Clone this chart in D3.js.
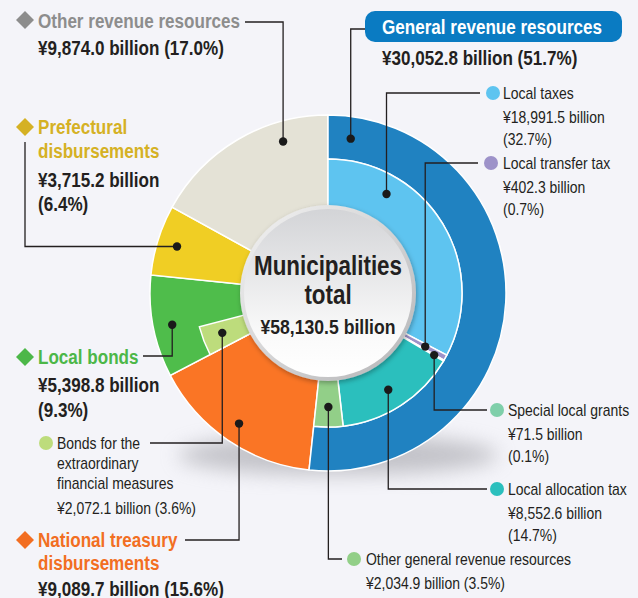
<!DOCTYPE html>
<html><head><meta charset="utf-8">
<script src="https://cdn.jsdelivr.net/npm/d3@7"></script>
<style>
body{margin:0;background:#f4f4f9;}
svg{display:block;font-family:"Liberation Sans",Arial,sans-serif;}
</style></head><body><svg id="chart" width="638" height="598"></svg>
<script>
// data (billion yen)
const total = 58130.5;
const mainNames = ["General revenue resources", "National treasury disbursements", "Local bonds", "Prefectural disbursements", "Other revenue resources"];
const mainValues = [30052.8, 9089.7, 5398.8, 3715.2, 9874.0];
const mainShares = [51.7, 15.6, 9.3, 6.4, 17.0];
const mainColors = ["#2289cc", "#f37224", "#4db849", "#e9c823", "#dedcd0"];

const generalNames = ["Local taxes", "Local transfer tax", "Special local grants", "Local allocation tax", "Other general revenue resources"];
const generalValues = [18991.5, 402.3, 71.5, 8552.6, 2034.9];
const generalShares = [32.7, 0.7, 0.1, 14.7, 3.5];
const generalColors = ["#5ec4f0", "#9d92c9", "#7fcfaa", "#2bbfbd", "#92cf88"];

const bondName = "Bonds for the extraordinary financial measures";
const bondValue = 2072.1;
const bondShare = 3.6;
const bondColor = "#bddc7c";

const svg = d3.select("#chart");
const cx = 328, cy = 293;
const rOuter = 178, rInner = 134, rCenter = 88;
const fmt = d3.format(",.1f");
const ink = "#231f20";

const angle = d3.scaleLinear().domain([0, total]).range([0, 2 * Math.PI]);

function slices(values, colors, offset) {
  let acc = offset || 0;
  return values.map((v, i) => {
    const s = { start: angle(acc), end: angle(acc + v), color: colors[i] };
    acc += v;
    return s;
  });
}
const mainSl = slices(mainValues, mainColors);
const genSl = slices(generalValues, generalColors);
const bondSl = slices([bondValue], [bondColor], mainValues[0] + mainValues[1])[0];

function polar(a, r) { return [cx + r * Math.sin(a), cy - r * Math.cos(a)]; }

const defs = svg.append("defs");
defs.append("filter").attr("id", "blur").attr("x", "-50%").attr("y", "-50%").attr("width", "200%").attr("height", "200%")
  .append("feGaussianBlur").attr("stdDeviation", 10);
const sh = defs.append("filter").attr("id", "csh").attr("x", "-30%").attr("y", "-30%").attr("width", "160%").attr("height", "160%");
sh.append("feDropShadow").attr("dx", 1).attr("dy", 2).attr("stdDeviation", 2.5).attr("flood-color", "#000").attr("flood-opacity", 0.3);

let gid = 0;
function radialFill(color, stops) {
  const id = "g" + (gid++);
  const g = defs.append("radialGradient").attr("id", id).attr("gradientUnits", "userSpaceOnUse")
    .attr("cx", cx).attr("cy", cy).attr("r", rOuter);
  stops.forEach(([o, k]) => {
    const c = k >= 0 ? d3.color(color).brighter(k) : d3.color(color).darker(-k);
    g.append("stop").attr("offset", o).attr("stop-color", c);
  });
  return `url(#${id})`;
}

const g = svg.append("g");
// soft shadow under the ring
g.append("ellipse").attr("cx", cx + 10).attr("cy", cy + 162).attr("rx", 160).attr("ry", 20)
  .attr("fill", "#9a9aa0").attr("opacity", 0.55).attr("filter", "url(#blur)");

const arc = d3.arc();
const pieStops = [[0, 0], [0.6, 0], [0.9, 0.28], [1, 0.08]];

// outer categories other than general
mainSl.slice(1).forEach(s => {
  g.append("path").attr("transform", `translate(${cx},${cy})`)
    .attr("d", arc({ innerRadius: 0, outerRadius: rOuter, startAngle: s.start, endAngle: s.end }))
    .attr("fill", radialFill(s.color, pieStops)).attr("stroke", "#fff").attr("stroke-width", 1.5);
});
// bonds for extraordinary measures
g.append("path").attr("transform", `translate(${cx},${cy})`)
  .attr("d", arc({ innerRadius: 0, outerRadius: rInner - 1, startAngle: bondSl.start, endAngle: bondSl.end }))
  .attr("fill", bondColor).attr("stroke", "#fff").attr("stroke-width", 1.5);

// general revenue ring
g.append("path").attr("transform", `translate(${cx},${cy})`)
  .attr("d", arc({ innerRadius: rInner, outerRadius: rOuter, startAngle: mainSl[0].start, endAngle: mainSl[0].end }))
  .attr("fill", radialFill(mainColors[0], [[0.75, -0.1], [0.87, 0.4], [0.97, 0.05], [1, -0.15]]))
  .attr("stroke", "#fff").attr("stroke-width", 1.5);
// general sub-items
genSl.forEach(s => {
  g.append("path").attr("transform", `translate(${cx},${cy})`)
    .attr("d", arc({ innerRadius: 0, outerRadius: rInner, startAngle: s.start, endAngle: s.end }))
    .attr("fill", s.color).attr("stroke", "#fff").attr("stroke-width", 1.5);
});

// centre disc
const rim = defs.append("linearGradient").attr("id", "rim").attr("x1", 0).attr("y1", 0).attr("x2", 1).attr("y2", 1);
rim.append("stop").attr("offset", 0).attr("stop-color", "#f4f4f4");
rim.append("stop").attr("offset", 1).attr("stop-color", "#b4b4b6");
const face = defs.append("linearGradient").attr("id", "face").attr("x1", 0).attr("y1", 0).attr("x2", 0).attr("y2", 1);
face.append("stop").attr("offset", 0).attr("stop-color", "#d3d4d7");
face.append("stop").attr("offset", 0.75).attr("stop-color", "#fafafa");
face.append("stop").attr("offset", 1).attr("stop-color", "#ffffff");
g.append("circle").attr("cx", cx).attr("cy", cy).attr("r", rCenter).attr("fill", "url(#rim)").attr("filter", "url(#csh)");
g.append("circle").attr("cx", cx).attr("cy", cy).attr("r", rCenter - 4).attr("fill", "url(#face)");

// condensed look: squeeze each text style so a reference string hits its measured width
const styles = {
  head: { size: 20, bold: true, calib: "Other revenue resources", width: 202 },
  body: { size: 17, bold: false, calib: "Other general revenue resources", width: 205 },
  big: { size: 27, bold: true, calib: "Municipalities", width: 148 },
  mid: { size: 20, bold: true, calib: "¥58,130.5 billion", width: 135 }
};
Object.values(styles).forEach(st => {
  const t = svg.append("text").attr("font-size", st.size).attr("font-weight", st.bold ? "bold" : "normal").text(st.calib);
  st.k = st.width / t.node().getComputedTextLength();
  t.remove();
});

function text(x, y, str, style, color, anchor) {
  const st = styles[style];
  const t = svg.append("text").attr("x", x).attr("y", y).text(str)
    .attr("font-size", st.size).attr("font-weight", st.bold ? "bold" : "normal")
    .attr("fill", color || ink).attr("text-anchor", anchor || "start");
  const w = t.node().getComputedTextLength();
  t.attr("textLength", w * st.k).attr("lengthAdjust", "spacingAndGlyphs");
  return t;
}
text(cx, 275, "Municipalities", "big", null, "middle");
text(cx, 304, "total", "big", null, "middle");
text(cx, 334, `¥${fmt(total)} billion`, "mid", null, "middle");

// leader lines: dot placed at a fraction of the slice angle and a radius
const leaders = [
  { s: mainSl[4], f: 0.73, r: 158, path: "vh", x: 245, y: 22 },
  { s: mainSl[0], f: 0.045, r: 156, path: "vh", x: 365, y: 29 },
  { s: genSl[0], f: 0.26, r: 115, path: "vh", x: 480, y: 93 },
  { s: genSl[1], f: 0.5, r: 111, path: "vh", x: 478, y: 163 },
  { s: genSl[2], f: 0.5, r: 123, path: "vh", x: 487, y: 410 },
  { s: genSl[3], f: 0.52, r: 114, path: "vh", x: 487, y: 489 },
  { s: genSl[4], f: 0.5, r: 114, path: "vh", x: 342, y: 559 },
  { s: mainSl[1], f: 0.5, r: 158, path: "vh", x: 185, y: 540 },
  { s: bondSl, f: 0.54, r: 113, path: "vh", x: 150, y: 443 },
  { s: mainSl[2], f: 0.48, r: 159, path: "vh", x: 143, y: 356 },
  { s: mainSl[3], f: 0.49, r: 158, path: "hv", x: 25, y: 142 }
];
leaders.forEach(l => {
  const [px, py] = polar(l.s.start + l.f * (l.s.end - l.s.start), l.r);
  const d = l.path === "vh" ? `M${px},${py}V${l.y}H${l.x}` : `M${px},${py}H${l.x}V${l.y}`;
  svg.append("path").attr("d", d).attr("fill", "none").attr("stroke", "#231f20").attr("stroke-width", 1.3);
  svg.append("circle").attr("cx", px).attr("cy", py).attr("r", 4.2).attr("fill", "#1a1a1a");
});

// left-side headings
function diamond(x, y, color) {
  svg.append("path").attr("d", `M${x},${y - 9}L${x + 9},${y}L${x},${y + 9}L${x - 9},${y}Z`).attr("fill", color);
}
const headColors = { 4: "#8d8d8d", 3: "#d5b124", 2: "#4cb748", 1: "#f26e22" };
diamond(25, 20, headColors[4]);
text(38, 28, mainNames[4], "head", headColors[4]);
text(38, 55, `¥${fmt(mainValues[4])} billion (${mainShares[4].toFixed(1)}%)`, "head");

diamond(25, 127, headColors[3]);
text(38, 134, "Prefectural", "head", headColors[3]);
text(38, 158, "disbursements", "head", headColors[3]);
text(38, 187, `¥${fmt(mainValues[3])} billion`, "head");
text(38, 211, `(${mainShares[3].toFixed(1)}%)`, "head");

diamond(25, 357, headColors[2]);
text(38, 364, mainNames[2], "head", headColors[2]);
text(38, 392, `¥${fmt(mainValues[2])} billion`, "head");
text(38, 417, `(${mainShares[2].toFixed(1)}%)`, "head");

svg.append("circle").attr("cx", 46).attr("cy", 443).attr("r", 7).attr("fill", bondColor);
text(57, 449, "Bonds for the", "body");
text(57, 469, "extraordinary", "body");
text(57, 489, "financial measures", "body");
text(57, 514, `¥${fmt(bondValue)} billion (${bondShare.toFixed(1)}%)`, "body");

diamond(25, 540, headColors[1]);
text(38, 547, "National treasury", "head", headColors[1]);
text(38, 570, "disbursements", "head", headColors[1]);
text(38, 596, `¥${fmt(mainValues[1])} billion (${mainShares[1].toFixed(1)}%)`, "head");

// general revenue heading
svg.append("rect").attr("x", 365).attr("y", 11).attr("width", 257).attr("height", 31).attr("rx", 10).attr("fill", "#0a7bc2");
text(382, 34, mainNames[0], "head", "#fff");
text(382, 65, `¥${fmt(mainValues[0])} billion (${mainShares[0].toFixed(1)}%)`, "head");

// general sub-item labels
const subLabels = [
  { i: 0, dx: 493, tx: 503, y: 93, lines: 3 },
  { i: 1, dx: 491, tx: 503, y: 163, lines: 3 },
  { i: 2, dx: 497, tx: 508, y: 410, lines: 3 },
  { i: 3, dx: 497, tx: 508, y: 489, lines: 3 },
  { i: 4, dx: 354, tx: 366, y: 559, lines: 2 }
];
subLabels.forEach(l => {
  svg.append("circle").attr("cx", l.dx).attr("cy", l.y).attr("r", 7).attr("fill", generalColors[l.i]);
  text(l.tx, l.y + 6, generalNames[l.i], "body");
  const v = `¥${fmt(generalValues[l.i])} billion`, p = `(${generalShares[l.i].toFixed(1)}%)`;
  if (l.lines === 3) {
    text(l.tx, l.y + 30, v, "body");
    text(l.tx, l.y + 52, p, "body");
  } else {
    text(l.tx, l.y + 30, `${v} ${p}`, "body");
  }
});
</script></body></html>
